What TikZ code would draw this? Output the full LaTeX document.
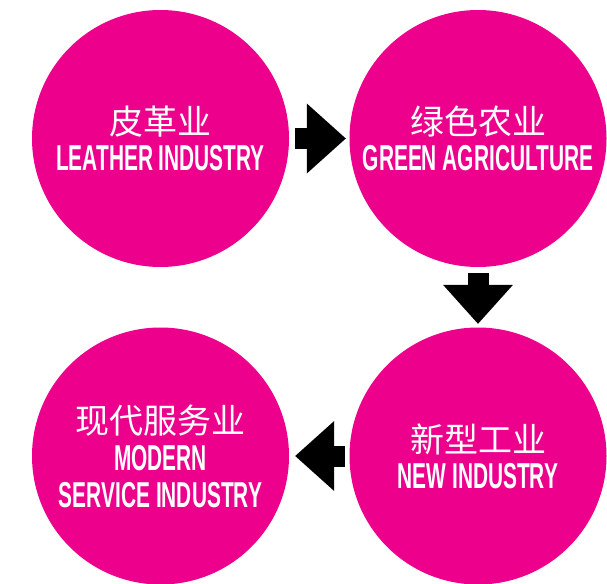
\documentclass[tikz,border=0pt]{standalone}
\usepackage{fontspec}
\usetikzlibrary{arrows.meta}
\newfontfamily\cjkfont{Noto Sans CJK SC}
\newfontfamily\capsfont[FakeStretch=0.58]{Liberation Sans}
\definecolor{hotpink}{HTML}{EC008C}
\newcommand{\zh}[1]{{\cjkfont\mdseries\fontsize{34}{35}\selectfont #1}}
\tikzset{%
    stage/.style={circle, fill=hotpink, draw=none, minimum size=257pt,
        inner sep=0pt, text=white, align=center,
        font=\capsfont\bfseries\fontsize{36}{36}\selectfont},
    flow/.style={draw=black, line width=21pt,
        -{Triangle[length=39pt, width=70pt, line width=0pt]}}
}

\begin{document}
\begin{tikzpicture}
  \useasboundingbox (0pt, 0pt) rectangle (607pt, -583pt);
  \node (leather) [stage] at (160.5pt, -138.5pt) {\zh{皮革业}\\LEATHER INDUSTRY};
  \node (green) [stage] at (478pt, -138.5pt) {\zh{绿色农业}\\GREEN AGRICULTURE};
  \node (newind) [stage] at (478pt, -456pt) {\zh{新型工业}\\NEW INDUSTRY};
  \node (service) [stage] at (160.5pt, -456pt)
    {\zh{现代服务业}\\[1pt]MODERN\\[1pt]SERVICE INDUSTRY};
  \draw [flow, shorten <=6pt, shorten >=3.5pt] (leather) -- (green);
  \draw [flow, shorten <=6pt, shorten >=3.5pt] (green) -- (newind);
  \draw [flow, shorten <=4.5pt, shorten >=6pt] (newind) -- (service);
\end{tikzpicture}
\end{document}
